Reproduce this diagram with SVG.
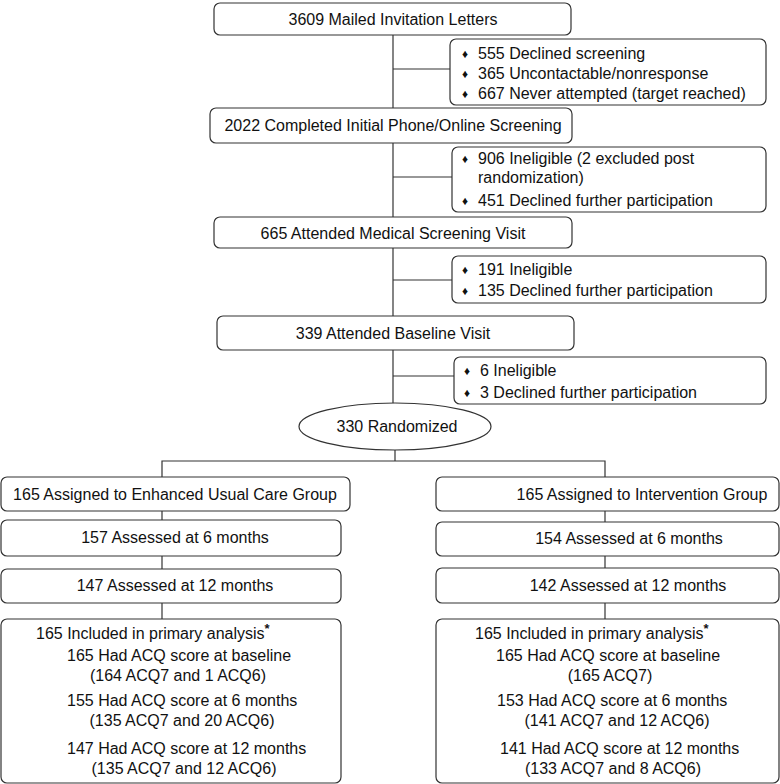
<svg xmlns="http://www.w3.org/2000/svg" width="780" height="784" viewBox="0 0 780 784">
<style>
.box{fill:#fff;stroke:#333;stroke-width:1.2}
.ln{stroke:#333;stroke-width:1.2;fill:none}
text{font-family:"Liberation Sans",Arial,sans-serif;font-size:16px;fill:#111}
.c{text-anchor:middle}
.b{font-size:12px}
.s{font-size:13px;font-weight:bold}
</style>
<rect width="780" height="784" fill="#fff"/>
<g id="connectors">
<line class="ln" x1="393" y1="35" x2="393" y2="108"/>
<line class="ln" x1="393" y1="143" x2="393" y2="217"/>
<line class="ln" x1="393" y1="248" x2="393" y2="316"/>
<line class="ln" x1="393" y1="350" x2="393" y2="403"/>
<line class="ln" x1="393" y1="69" x2="450" y2="69"/>
<line class="ln" x1="393" y1="177" x2="452" y2="177"/>
<line class="ln" x1="393" y1="280" x2="452" y2="280"/>
<line class="ln" x1="393" y1="376" x2="454" y2="376"/>
<line class="ln" x1="395" y1="450" x2="395" y2="461"/>
<polyline class="ln" points="162,477 162,461 605,461 605,477"/>
<line class="ln" x1="162" y1="511" x2="162" y2="520"/>
<line class="ln" x1="162" y1="556" x2="162" y2="569"/>
<line class="ln" x1="162" y1="603" x2="162" y2="619"/>
<line class="ln" x1="605" y1="511" x2="605" y2="522"/>
<line class="ln" x1="605" y1="556" x2="605" y2="568"/>
<line class="ln" x1="605" y1="603" x2="605" y2="619"/>
</g>
<g id="mailed">
<rect class="box" x="214" y="3" width="357" height="32" rx="6"/>
<text class="c" x="393" y="25">3609 Mailed Invitation Letters</text>
</g>
<g id="excl1">
<rect class="box" x="450" y="39" width="316" height="66" rx="6"/>
<text class="b" x="462" y="58">♦</text><text x="478" y="59">555 Declined screening</text>
<text class="b" x="462" y="78">♦</text><text x="478" y="79">365 Uncontactable/nonresponse</text>
<text class="b" x="462" y="98">♦</text><text x="478" y="99">667 Never attempted (target reached)</text>
</g>
<g id="screened">
<rect class="box" x="210" y="108" width="362" height="35" rx="6"/>
<text class="c" x="393" y="131">2022 Completed Initial Phone/Online Screening</text>
</g>
<g id="excl2">
<rect class="box" x="452" y="147" width="314" height="65" rx="6"/>
<text class="b" x="462" y="163">♦</text><text x="478" y="164">906 Ineligible (2 excluded post</text>
<text x="478" y="183">randomization)</text>
<text class="b" x="462" y="205">♦</text><text x="478" y="206">451 Declined further participation</text>
</g>
<g id="medical">
<rect class="box" x="214" y="217" width="358" height="31" rx="6"/>
<text class="c" x="393" y="239">665 Attended Medical Screening Visit</text>
</g>
<g id="excl3">
<rect class="box" x="452" y="256" width="314" height="47" rx="6"/>
<text class="b" x="462" y="274">♦</text><text x="478" y="275">191 Ineligible</text>
<text class="b" x="462" y="295">♦</text><text x="478" y="296">135 Declined further participation</text>
</g>
<g id="baseline">
<rect class="box" x="217" y="316" width="357" height="34" rx="6"/>
<text class="c" x="393" y="339">339 Attended Baseline Visit</text>
</g>
<g id="excl4">
<rect class="box" x="454" y="357" width="312" height="47" rx="6"/>
<text class="b" x="464" y="375">♦</text><text x="480" y="376">6 Ineligible</text>
<text class="b" x="464" y="397">♦</text><text x="480" y="398">3 Declined further participation</text>
</g>
<g id="randomized">
<ellipse class="box" cx="395" cy="426.5" rx="96" ry="23.5"/>
<text class="c" x="397" y="432">330 Randomized</text>
</g>
<g id="euc">
<rect class="box" x="1" y="477" width="349" height="34" rx="6"/>
<text class="c" x="175" y="500">165 Assigned to Enhanced Usual Care Group</text>
</g>
<g id="euc6">
<rect class="box" x="1" y="520" width="340" height="36" rx="6"/>
<text class="c" x="175" y="543">157 Assessed at 6 months</text>
</g>
<g id="euc12">
<rect class="box" x="1" y="569" width="340" height="34" rx="6"/>
<text class="c" x="175" y="591">147 Assessed at 12 months</text>
</g>
<g id="eucA">
<rect class="box" x="1" y="619" width="340" height="164" rx="6"/>
<text x="36" y="639">165 Included in primary analysis<tspan class="s" dy="-6">*</tspan></text>
<text x="67" y="661">165 Had ACQ score at baseline</text>
<text class="c" x="178" y="681">(164 ACQ7 and 1 ACQ6)</text>
<text x="67" y="706">155 Had ACQ score at 6 months</text>
<text class="c" x="182" y="726">(135 ACQ7 and 20 ACQ6)</text>
<text x="67" y="754">147 Had ACQ score at 12 months</text>
<text class="c" x="184" y="774">(135 ACQ7 and 12 ACQ6)</text>
</g>
<g id="int">
<rect class="box" x="436" y="477" width="343" height="34" rx="6"/>
<text class="c" x="642" y="500">165 Assigned to Intervention Group</text>
</g>
<g id="int6">
<rect class="box" x="436" y="522" width="343" height="34" rx="6"/>
<text class="c" x="629" y="544">154 Assessed at 6 months</text>
</g>
<g id="int12">
<rect class="box" x="436" y="568" width="343" height="35" rx="6"/>
<text class="c" x="628" y="591">142 Assessed at 12 months</text>
</g>
<g id="intA">
<rect class="box" x="436" y="619" width="343" height="164" rx="6"/>
<text x="475" y="639">165 Included in primary analysis<tspan class="s" dy="-6">*</tspan></text>
<text x="496" y="661">165 Had ACQ score at baseline</text>
<text class="c" x="610" y="681">(165 ACQ7)</text>
<text x="497" y="706">153 Had ACQ score at 6 months</text>
<text class="c" x="617" y="726">(141 ACQ7 and 12 ACQ6)</text>
<text x="500" y="754">141 Had ACQ score at 12 months</text>
<text class="c" x="613" y="774">(133 ACQ7 and 8 ACQ6)</text>
</g>
</svg>
